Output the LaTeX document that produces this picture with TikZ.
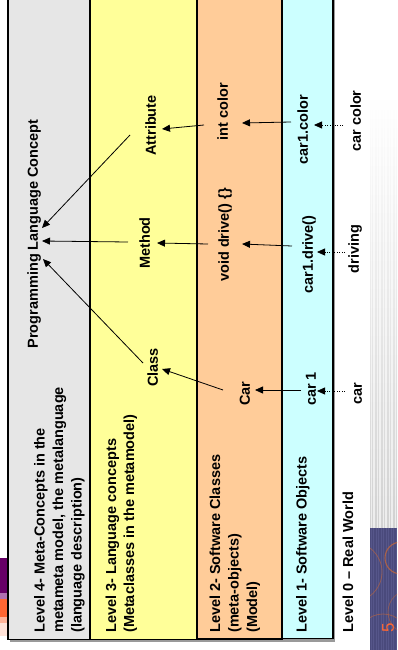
\documentclass[tikz,border=0pt]{standalone}
\usepackage{fontspec}
\setmainfont{Liberation Sans}
\usetikzlibrary{arrows.meta,calc}

\definecolor{lvlgray}{HTML}{E6E6E6}
\definecolor{lvlyellow}{HTML}{FFFF99}
\definecolor{lvlorange}{HTML}{FFCC99}
\definecolor{lvlcyan}{HTML}{CCFFFF}
\definecolor{shadowgray}{HTML}{9A9A9A}
\definecolor{plum}{HTML}{660066}
\definecolor{lilac}{HTML}{B070B0}
\definecolor{tangerine}{HTML}{FF6633}
\definecolor{salmon}{HTML}{FFB399}
\definecolor{blush}{HTML}{FFE2D8}
\definecolor{slate}{HTML}{4A4A7C}
\definecolor{slatelight}{HTML}{5C5C90}
\definecolor{rust}{HTML}{C0663C}

\tikzset{
  levelbox/.style={draw=black, line width=1.2bp},
  lvltext/.style={rotate=90, anchor=base west, inner sep=0pt},
  concept/.style={rotate=90, inner sep=0pt, text height=10.5bp, text depth=3bp},
  link/.style={line width=0.8bp, draw=black, -{Triangle[length=8bp,width=7bp]}},
  trace/.style={link, dash pattern=on 1bp off 1.5bp},
}

\begin{document}
\begin{tikzpicture}[x=1bp, y=-1bp, font=\fontsize{14.5bp}{17bp}\selectfont\bfseries]
\useasboundingbox[fill=white] (0,0) rectangle (397,650);

% left-hand slide ornament
\fill[plum]       (0,558) rectangle (12,593);
\fill[lilac]      (0,593) rectangle (12,599);
\fill[tangerine]  (0,599) rectangle (12,617);
\fill[salmon]     (0,617) rectangle (12,623);
\fill[blush]      (0,623) rectangle (12,636);

% right-hand slide ornament: striped grey fade
\shade[top color=white, bottom color=black!18] (370,95) rectangle (397,528);
\foreach \sx in {371.5,374,377.5,380,383.5,386,389.5,392,395.5}
  \draw[white, line width=1.1bp, opacity=0.6] (\sx,95) -- (\sx,528);
% right-hand slide ornament: dark block with rings
\fill[slate] (370,528) rectangle (397,650);
\foreach \sx in {371,373.5,...,397}
  \draw[slatelight, line width=0.6bp, opacity=0.7] (\sx,528) -- (\sx,650);
\begin{scope}
  \clip (370,528) rectangle (397,650);
  \draw[rust, line width=1.1bp, opacity=0.8] (401,558) circle (16);
  \draw[rust, line width=0.8bp, opacity=0.6] (352,572) circle (30);
  \draw[rust, line width=0.8bp, opacity=0.6] (383,640) circle (26);
  \draw[rust, line width=0.8bp, opacity=0.5] (410,612) circle (22);
\end{scope}
\node[rotate=90, inner sep=0pt, text=tangerine,
      font=\fontsize{17bp}{19bp}\selectfont] (pagenum) at (388,627.5) {5};

% level bands
\fill[shadowgray] (10,-3) rectangle (335,641.5);
\draw[levelbox, fill=lvlgray]   (8,-3)   rectangle (90,639.5);
\draw[levelbox, fill=lvlorange] (197,-3) rectangle (282,639);
\draw[levelbox, fill=lvlcyan]   (282,-3) rectangle (333,638.5);
\draw[levelbox, line width=1.8bp, fill=lvlyellow] (90,-3) rectangle (197,639.5);

% level captions
\node[lvltext] (l4a) at (44.5,633) {Level 4- Meta-Concepts in the};
\node[lvltext] (l4b) at (63,633)   {metameta model, the metalanguage};
\node[lvltext] (l4c) at (81.5,633) {(language description)};
\node[lvltext] (l3a) at (116,633)  {Level 3- Language concepts};
\node[lvltext] (l3b) at (134,633)  {(Metaclasses in the metamodel)};
\node[lvltext] (l2a) at (220,633)  {Level 2- Software Classes};
\node[lvltext] (l2b) at (238.5,633){(meta-objects)};
\node[lvltext] (l2c) at (257,633)  {(Model)};
\node[lvltext] (l1a) at (306.5,633){Level 1- Software Objects};
\node[lvltext] (l0a) at (353,633)  {Level 0 -- Real World};

% concepts
\node[concept] (plc)      at (34,234)    {Programming Language Concept};
\node[concept] (attr)     at (152,125.5) {Attribute};
\node[concept] (meth)     at (146,243)   {Method};
\node[concept] (cls)      at (154,367.5) {Class};
\node[concept] (car)      at (246,393.5) {Car};
\node[concept] (vdrive)   at (225,235)   {void drive() \{\}};
\node[concept] (icolor)   at (224,111.5) {int color};
\node[concept] (c1color)  at (304,130)   {car1.color};
\node[concept] (c1drive)  at (309,254.5) {car1.drive()};
\node[concept] (car1)     at (312,389)   {car 1};
\node[concept] (carcolor) at (357,121)   {car color};
\node[concept] (driving)  at (355,249)   {driving};
\node[concept] (carr)     at (358,394)   {car};

% instance-of links
\draw[link] ($(attr)+(-22,9.5)$)  -- ($(plc)+(8,-6)$);
\draw[link] ($(meth)+(-18,-1)$)   -- ($(plc)+(8,7)$);
\draw[link] ($(cls)+(-11,-4.5)$)  -- ($(plc)+(9,25)$);
\draw[link] ($(car)+(-23,-3.5)$)  -- ($(cls)+(8,1.5)$);
\draw[link] ($(vdrive)+(-17,9)$)  -- ($(meth)+(11,0)$);
\draw[link] ($(icolor)+(-20,13.5)$) -- ($(attr)+(10,3.5)$);
\draw[link] ($(c1color)+(-13,-8)$)  -- ($(icolor)+(18,11.5)$);
\draw[link] ($(c1drive)+(-17,-8.5)$) -- ($(vdrive)+(17,9)$);
\draw[link] ($(car1)+(-11,1)$)    -- ($(car)+(9,-3.5)$);
\draw[trace] ($(carcolor)+(-14,4)$) -- ($(c1color)+(10,-5)$);
\draw[trace] ($(driving)+(-10,3)$)  -- ($(c1drive)+(8,-2.5)$);
\draw[trace] ($(carr)+(-13,-3)$)    -- ($(car1)+(5,2)$);
\end{tikzpicture}
\end{document}
